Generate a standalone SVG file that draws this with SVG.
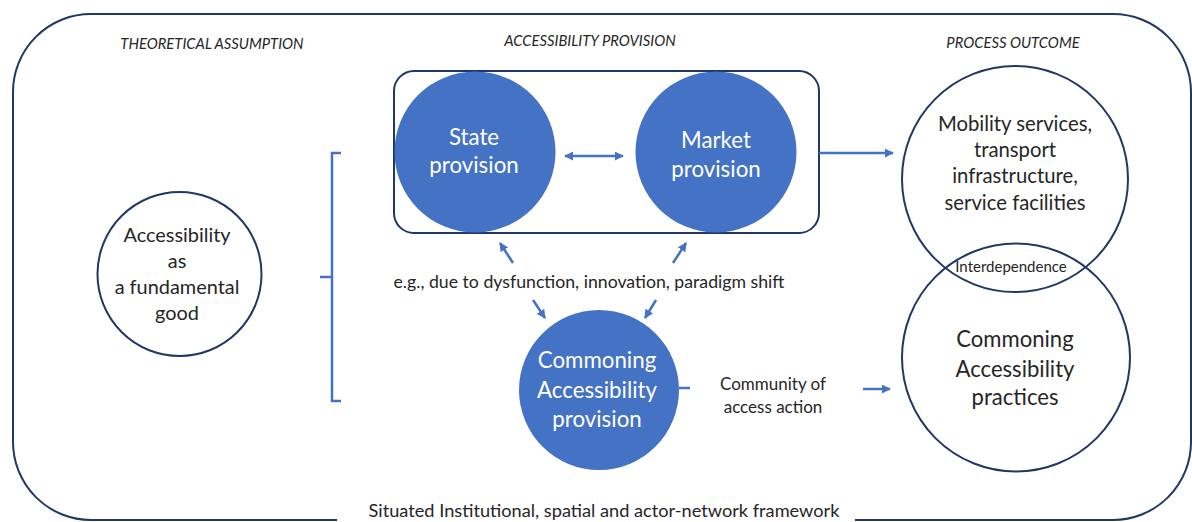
<svg xmlns="http://www.w3.org/2000/svg" width="1192" height="522" viewBox="0 0 1192 522">
<defs>
<style>
.frame{fill:none;stroke:#1F3864;stroke-width:2}
.ring{fill:#fff;stroke:#1F3864;stroke-width:2}
.ringo{fill:none;stroke:#1F3864;stroke-width:2}
.blue{fill:#4472C4;stroke:none}
.con{fill:none;stroke:#4472C4;stroke-width:2.5}
.t{font-family:Lato,"Liberation Sans",sans-serif;fill:#262626;text-anchor:middle}
.w{font-family:Lato,"Liberation Sans",sans-serif;fill:#fff;text-anchor:middle;font-size:22.3px}
.h{font-style:italic;font-size:14.8px}
</style>
<marker id="ah" viewBox="0 0 10 10" refX="9" refY="5" markerWidth="9" markerHeight="9" markerUnits="userSpaceOnUse" orient="auto-start-reverse">
<path d="M0,0 L10,5 L0,10 z" fill="#4472C4"/>
</marker>
</defs>
<rect width="1192" height="522" fill="#fff"/>
<g id="frame">
<path class="frame" d="M337,520 H91 A78,78 0 0 1 13,442 V92 A78,78 0 0 1 91,14 H1113 A78,78 0 0 1 1191,92 V442 A78,78 0 0 1 1113,520 H855"/>
<text class="t" x="604" y="517" font-size="18.2">Situated Institutional, spatial and actor-network framework</text>
</g>
<g id="headers">
<text class="t h" x="212" y="49">THEORETICAL ASSUMPTION</text>
<text class="t h" x="590" y="46">ACCESSIBILITY PROVISION</text>
<text class="t h" x="1013" y="48">PROCESS OUTCOME</text>
</g>
<g id="assumption">
<circle class="ring" cx="179.5" cy="274" r="82"/>
<text class="t" font-size="19.9"><tspan x="177" y="242">Accessibility</tspan><tspan x="177" y="268">as</tspan><tspan x="177" y="294">a fundamental</tspan><tspan x="177" y="320">good</tspan></text>
</g>
<g id="provision-box">
<rect class="frame" x="394" y="71" width="425" height="162" rx="20"/>
</g>
<g id="state">
<circle class="blue" cx="475" cy="152" r="80.5"/>
<text class="w"><tspan x="474" y="145">State</tspan><tspan x="474" y="173">provision</tspan></text>
</g>
<g id="market">
<circle class="blue" cx="716" cy="152" r="80.5"/>
<text class="w"><tspan x="716" y="148">Market</tspan><tspan x="716" y="177">provision</tspan></text>
</g>
<g id="commoning">
<circle class="blue" cx="599" cy="390" r="80"/>
<text class="w"><tspan x="597" y="368">Commoning</tspan><tspan x="597" y="398">Accessibility</tspan><tspan x="597" y="427">provision</tspan></text>
</g>
<g id="outcome-services">
<circle class="ringo" cx="1015" cy="179" r="113"/>
<text class="t" font-size="20.3"><tspan x="1015" y="131">Mobility services,</tspan><tspan x="1015" y="157">transport</tspan><tspan x="1015" y="183">infrastructure,</tspan><tspan x="1015" y="210">service facilities</tspan></text>
</g>
<g id="outcome-practices">
<circle class="ringo" cx="1016" cy="357.5" r="114"/>
<text class="t" font-size="22.1"><tspan x="1015" y="347">Commoning</tspan><tspan x="1015" y="377">Accessibility</tspan><tspan x="1015" y="405">practices</tspan></text>
</g>
<g id="interdependence">
<text class="t" font-size="15" x="1011" y="272">Interdependence</text>
</g>
<g id="labels">
<text class="t" font-size="17.7" x="589" y="288">e.g., due to dysfunction, innovation, paradigm shift</text>
<text class="t" font-size="17"><tspan x="773" y="390">Community of</tspan><tspan x="773" y="413">access action</tspan></text>
</g>
<g id="connectors">
<path class="con" d="M341,153 H332 V401 H341 M332,277 H320"/>
<line class="con" x1="565" y1="156" x2="623" y2="156" marker-start="url(#ah)" marker-end="url(#ah)"/>
<line class="con" x1="819" y1="153" x2="893" y2="153" marker-end="url(#ah)"/>
<line class="con" x1="513" y1="263" x2="500" y2="243" marker-end="url(#ah)"/>
<line class="con" x1="673" y1="263" x2="686" y2="243" marker-end="url(#ah)"/>
<line class="con" x1="533" y1="300" x2="545" y2="318" marker-end="url(#ah)"/>
<line class="con" x1="656" y1="300" x2="645" y2="318" marker-end="url(#ah)"/>
<line class="con" x1="679" y1="388" x2="690" y2="388"/>
<line class="con" x1="863" y1="389" x2="890" y2="389" marker-end="url(#ah)"/>
</g>
</svg>
